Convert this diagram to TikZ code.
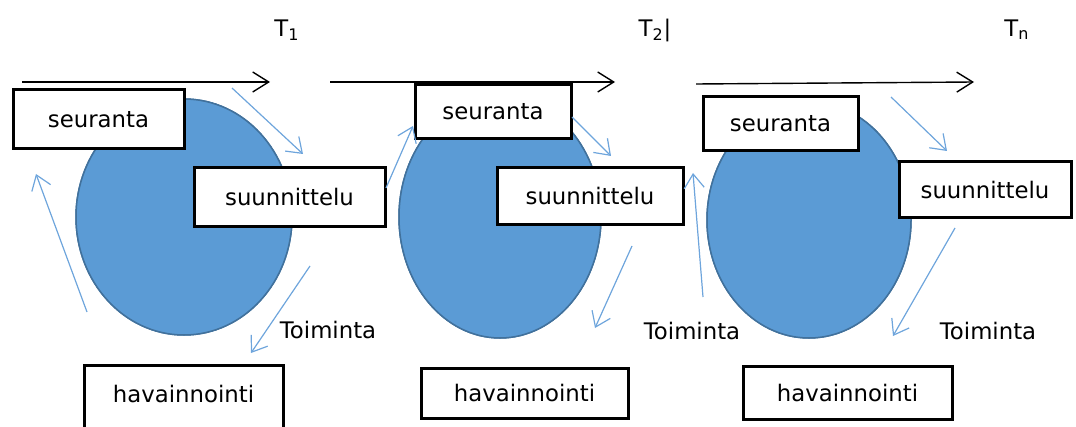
\documentclass[tikz,border=0pt]{standalone}
\usepackage{fontspec}
\setmainfont{DejaVu Sans}
\usetikzlibrary{arrows.meta}
\definecolor{cyclefill}{RGB}{91,155,213}
\definecolor{cycleline}{RGB}{65,113,156}
\definecolor{flowblue}{RGB}{110,165,220}
\begin{document}
\begin{tikzpicture}[x=0.5pt,y=-0.5pt,
  phase node/.style={rectangle,draw,fill=white,line width=1.5pt,inner sep=0pt},
  label node/.style={inner sep=0pt},
  time line/.style={line width=0.7pt,-{Straight Barb[length=8pt,width=10pt]}},
  flow line/.style={flowblue,line width=0.6pt,-{Straight Barb[length=7pt,width=10pt]}},
  cycle/.style={fill=cyclefill,draw=cycleline,line width=0.75pt}]
  \useasboundingbox (0,0) rectangle (1076,427);
  \fontsize{11.4}{13}\selectfont

  \fill[cycle] (184,217) ellipse [x radius=108, y radius=118];
  \fill[cycle] (500,217) ellipse [x radius=101, y radius=121];
  \fill[cycle] (809,220) ellipse [x radius=102, y radius=118];
  \draw[cycle] (184,217) ellipse [x radius=108, y radius=118];
  \draw[cycle] (500,217) ellipse [x radius=101, y radius=121];
  \draw[cycle] (809,220) ellipse [x radius=102, y radius=118];

  \node[label node] (t1) at (287,30) {T\textsubscript{1}};
  \node[label node] (t2) at (655,30) {T\textsubscript{2}|};
  \node[label node] (tn) at (1017,30) {T\textsubscript{n}};

  \node[phase node,minimum width=85.5pt,minimum height=29.5pt] (s1) at (98.5,119.5) {seuranta};
  \node[phase node,minimum width=95.5pt,minimum height=29.5pt] (p1) at (289.5,197.5) {suunnittelu};
  \node[phase node,minimum width=99.5pt,minimum height=35pt,text depth=6pt] (h1) at (183.5,400) {havainnointi};
  \node[phase node,minimum width=78pt,minimum height=27pt] (s2) at (493,112) {seuranta};
  \node[phase node,minimum width=93pt,minimum height=28.5pt] (p2) at (590,196.5) {suunnittelu};
  \node[phase node,minimum width=103.5pt,minimum height=25pt] (h2) at (524.5,393) {havainnointi};
  \node[phase node,minimum width=77.5pt,minimum height=27pt] (s3) at (780.5,124) {seuranta};
  \node[phase node,minimum width=86pt,minimum height=28pt] (p3) at (985,190) {suunnittelu};
  \node[phase node,minimum width=104.5pt,minimum height=26.5pt] (h3) at (847.5,392.5) {havainnointi};

  \node[label node] (a1) at (328,330) {Toiminta};
  \node[label node] (a2) at (692,331) {Toiminta};
  \node[label node] (a3) at (988,331) {Toiminta};

  % time axis
  \coordinate (ta1) at (22,82);   \coordinate (tb1) at (270,82);
  \coordinate (ta2) at (330,82);  \coordinate (tb2) at (615,82);
  \coordinate (ta3) at (696,84);  \coordinate (tb3) at (974,82);
  \path[time line]
   (ta1) edge (tb1)
   (ta2) edge (tb2)
   (ta3) edge (tb3);

  % cycle arrows
  \coordinate (b1) at (232,88);  \coordinate (c1) at (303,154);
  \coordinate (b2) at (310,266); \coordinate (c2) at (251,353);
  \coordinate (b3) at (87,312);  \coordinate (c3) at (36,174);
  \coordinate (b4) at (386,188); \coordinate (c4) at (413,126);
  \coordinate (b5) at (572,117); \coordinate (c5) at (611,156);
  \coordinate (b6) at (632,246); \coordinate (c6) at (595,328);
  \coordinate (b7) at (703,297); \coordinate (c7) at (693,173);
  \coordinate (b8) at (891,97);  \coordinate (c8) at (947,151);
  \coordinate (b9) at (955,228); \coordinate (c9) at (893,336);
  \path[flow line]
   (b1) edge (c1)
   (b2) edge (c2)
   (b3) edge (c3)
   (b4) edge (c4)
   (b5) edge (c5)
   (b6) edge (c6)
   (b7) edge (c7)
   (b8) edge (c8)
   (b9) edge (c9);
\end{tikzpicture}
\end{document}
